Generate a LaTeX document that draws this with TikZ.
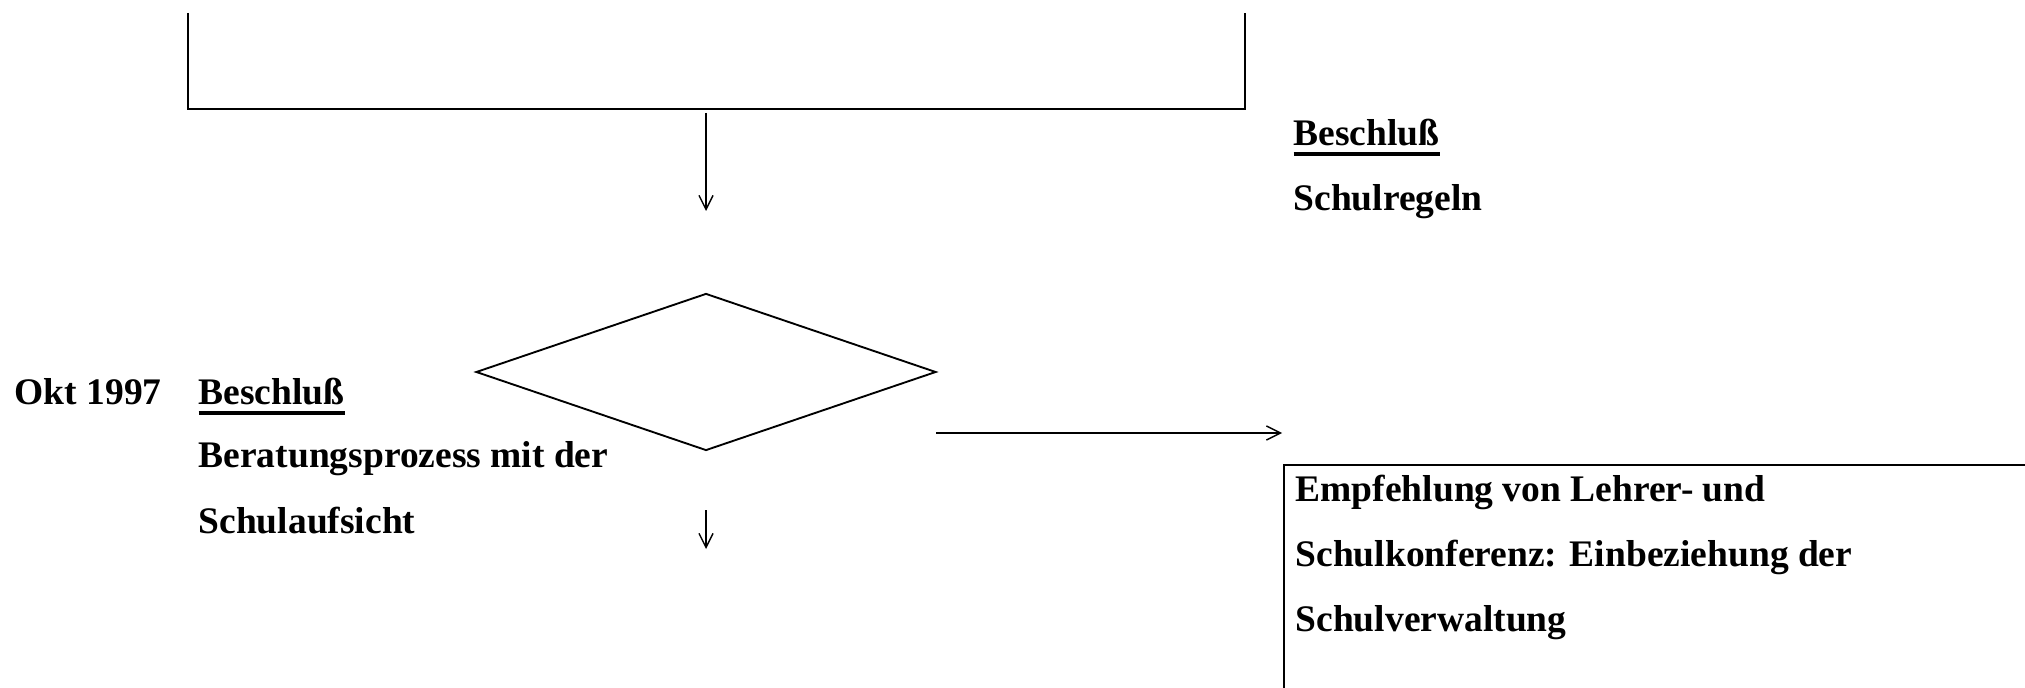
\documentclass[tikz,border=0pt]{standalone}
\usepackage{fontspec}
\setmainfont{Liberation Serif}
\usetikzlibrary{shapes.geometric,arrows.meta}
\newcommand{\ulword}[1]{\setbox0\hbox{#1}\rlap{\rule[-3.1pt]{\wd0}{1.1pt}}\box0}

\begin{document}
\begin{tikzpicture}[x=0.32pt,y=-0.32pt,
	font=\fontsize{12pt}{14pt}\selectfont\bfseries,
	>={Straight Barb[length=4.5pt,width=4.5pt]},
	txt/.style={anchor=base west,inner sep=0pt},
	box/.style={line width=0.6pt},
	flow/.style={line width=0.45pt,->}]
	\useasboundingbox (0,0) rectangle (2025,688);
	% upper box, cut off at the top
	\coordinate (tl) at (188,13);
	\coordinate (bl) at (188,109);
	\coordinate (br) at (1245,109);
	\coordinate (tr) at (1245,13);
	\draw[box] (tl) -- (bl) -- (br) -- (tr);
	\coordinate (a1) at (706,113);
	\coordinate (a2) at (706,211);
	\draw[flow] (a1) -- (a2);
	% decision
	\node[draw,diamond,box,inner sep=0pt,minimum width=147.2pt,minimum height=50.24pt] (dia) at (706,372) {};
	\coordinate (h1) at (936,433);
	\coordinate (h2) at (1282,433);
	\draw[flow] (h1) -- (h2);
	\coordinate (d1) at (706,510);
	\coordinate (d2) at (706,549);
	\draw[flow] (d1) -- (d2);
	% right text
	\node[txt] (bes2) at (1293,146) {\ulword{Beschluß}};
	\node[txt] (regeln) at (1293,211) {Schulregeln};
	% left text
	\node[txt] (okt) at (14,405) {Okt 1997};
	\node[txt] (bes1) at (198,405) {\ulword{Beschluß}};
	\node[txt] (berat) at (198,468) {Beratungsprozess mit der};
	\node[txt] (aufs) at (198,533) {Schulaufsicht};
	% lower right box, cut off at the edges
	\coordinate (r1) at (2035,465);
	\coordinate (r2) at (1284,465);
	\coordinate (r3) at (1284,698);
	\draw[box] (r1) -- (r2) -- (r3);
	\foreach \txtline [count=\i] in {Empfehlung von Lehrer- und,
		Schulkonferenz: Einbeziehung der,
		Schulverwaltung} {
		\node[txt] (emp\i) at (1295,436+65*\i) {\txtline};
	}
\end{tikzpicture}
\end{document}
